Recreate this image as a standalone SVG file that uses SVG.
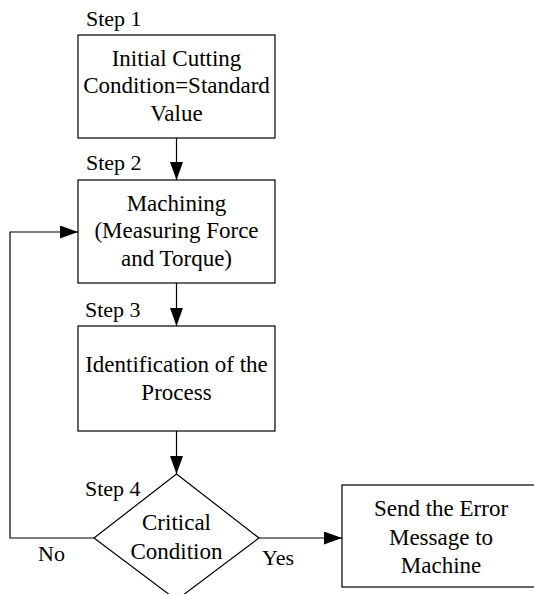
<svg xmlns="http://www.w3.org/2000/svg" width="534" height="594" viewBox="0 0 534 594">
<style>
.box{fill:#fff;stroke:#000;stroke-width:1.2}
.t{font-family:"Liberation Serif","Times New Roman",serif;font-size:23px;fill:#000;text-anchor:middle}
.s{font-family:"Liberation Serif","Times New Roman",serif;font-size:22px;fill:#000}
.c{fill:none;stroke:#000;stroke-width:1.2}
</style>
<defs>
<marker id="ah" viewBox="0 0 18 13" refX="18" refY="6.5" markerWidth="18" markerHeight="13" markerUnits="userSpaceOnUse" orient="auto">
<path d="M0,0 L18,6.5 L0,13 Z" fill="#000"/>
</marker>
</defs>
<rect width="534" height="594" fill="#fff"/>
<g id="connectors">
<line class="c" x1="176.5" y1="138" x2="176.5" y2="180" marker-end="url(#ah)"/>
<line class="c" x1="176.5" y1="283" x2="176.5" y2="326" marker-end="url(#ah)"/>
<line class="c" x1="176.5" y1="431" x2="176.5" y2="474" marker-end="url(#ah)"/>
<line class="c" x1="259" y1="538" x2="342" y2="538" marker-end="url(#ah)"/>
<polyline class="c" points="94,538 10,538 10,232 78,232" marker-end="url(#ah)"/>
<text class="s" x="38" y="561">No</text>
<text class="s" x="262" y="565">Yes</text>
</g>
<g id="step1">
<text class="s" x="86" y="26">Step 1</text>
<rect class="box" x="78" y="35" width="197" height="103"/>
<text class="t" x="176.5" y="66">Initial Cutting</text>
<text class="t" x="176.5" y="93">Condition=Standard</text>
<text class="t" x="176.5" y="121">Value</text>
</g>
<g id="step2">
<text class="s" x="86" y="170">Step 2</text>
<rect class="box" x="78" y="180" width="197" height="103"/>
<text class="t" x="176.5" y="211">Machining</text>
<text class="t" x="176.5" y="238">(Measuring Force</text>
<text class="t" x="176.5" y="266">and Torque)</text>
</g>
<g id="step3">
<text class="s" x="85" y="317">Step 3</text>
<rect class="box" x="78" y="326" width="197" height="105"/>
<text class="t" x="176.5" y="372">Identification of the</text>
<text class="t" x="176.5" y="400">Process</text>
</g>
<g id="step4">
<text class="s" x="85" y="496">Step 4</text>
<polygon class="box" points="176.5,474 259,538 176.5,600 94,538"/>
<text class="t" x="176.5" y="530">Critical</text>
<text class="t" x="176.5" y="559">Condition</text>
</g>
<g id="error">
<rect class="box" x="342" y="485" width="197" height="102"/>
<text class="t" x="441" y="516">Send the Error</text>
<text class="t" x="441" y="545">Message to</text>
<text class="t" x="441" y="573">Machine</text>
</g>
</svg>
